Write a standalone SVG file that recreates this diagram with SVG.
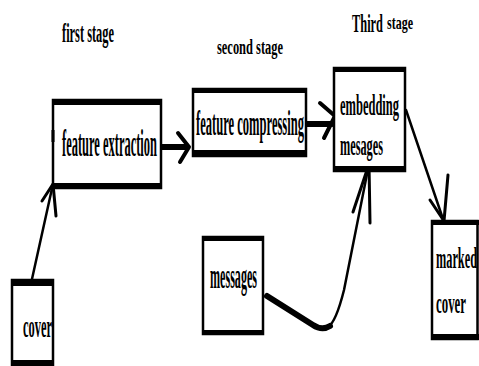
<svg xmlns="http://www.w3.org/2000/svg" width="479" height="366" viewBox="0 0 479 366">
<style>
text { font-family: "Liberation Serif", "Times New Roman", serif; fill: #000; font-weight: bold; }
.box { fill: #fff; stroke: #000; stroke-width: 2.5; }
.band { fill: #000; }
.ln { fill: none; stroke: #000; stroke-linecap: round; stroke-linejoin: round; }
</style>
<rect width="479" height="366" fill="#fff"/>
<g id="labels">
<text transform="translate(62,42) scale(0.459,1)" font-size="27" textLength="113.3" lengthAdjust="spacingAndGlyphs">first stage</text>
<text transform="translate(217,54) scale(0.566,1)" font-size="22" textLength="116.6" lengthAdjust="spacingAndGlyphs">second stage</text>
<text transform="translate(352,32) scale(0.477,1)" font-size="26" textLength="65" lengthAdjust="spacingAndGlyphs">Third</text>
<text transform="translate(387,29) scale(0.667,1)" font-size="18" textLength="39" lengthAdjust="spacingAndGlyphs">stage</text>
</g>
<g id="connectors">
<path class="ln" stroke-width="2.5" d="M32 279 L53 184"/>
<path class="ln" stroke-width="3" d="M42 201 L53 184 L56 216"/>
<path class="ln" stroke-width="6" d="M162 147 L186 147"/>
<path class="ln" stroke-width="4" d="M178 133 L189 147 L180 162"/>
<path class="ln" stroke-width="6" d="M307 124 L332 124"/>
<path class="ln" stroke-width="4" d="M320 103 L335 116 L324 138"/>
<path class="ln" stroke-width="2.5" d="M406 110 L444 222"/>
<path class="ln" stroke-width="3" d="M430 200 L444 221 L448 175"/>
<path class="ln" stroke-width="2.5" d="M444 221 L444 230"/>
<path class="ln" stroke-width="6" d="M267 296 L313 325 Q322 331 330 326"/>
<path class="ln" stroke-width="2.5" d="M328 327 Q336 322 344 290 Q356 230 369 164"/>
<path class="ln" stroke-width="3" d="M353 212 L369 164 L370 223"/>
</g>
<g id="n-extraction">
<rect class="box" x="53" y="100" width="108" height="88"/>
<rect class="band" x="52" y="99" width="110" height="6"/>
<rect class="band" x="52" y="183" width="110" height="6"/>
<rect class="band" x="51.5" y="130" width="3" height="12"/>
<text transform="translate(62,156) scale(0.336,1)" font-size="37" textLength="282.7" lengthAdjust="spacingAndGlyphs">feature extraction</text>
</g>
<g id="n-compressing">
<rect class="box" x="193" y="89" width="113" height="67"/>
<rect class="band" x="192" y="88" width="115" height="5"/>
<rect class="band" x="192" y="150" width="115" height="7"/>
<text transform="translate(196,135) scale(0.357,1)" font-size="35" textLength="302.5" lengthAdjust="spacingAndGlyphs">feature compressing</text>
</g>
<g id="n-embedding">
<rect class="box" x="334" y="68" width="71" height="103"/>
<rect class="band" x="333" y="67" width="73" height="5"/>
<rect class="band" x="333" y="166" width="73" height="6"/>
<text transform="translate(340,115) scale(0.416,1)" font-size="30" textLength="141.8" lengthAdjust="spacingAndGlyphs">embedding</text>
<text transform="translate(340,155) scale(0.41,1)" font-size="30" textLength="104.9" lengthAdjust="spacingAndGlyphs">mesages</text>
</g>
<g id="n-cover">
<rect class="box" x="12" y="280" width="41" height="85"/>
<rect class="band" x="11" y="279" width="43" height="7"/>
<rect class="band" x="11" y="360" width="43" height="6"/>
<text transform="translate(23,337) scale(0.401,1)" font-size="31" textLength="72.3" lengthAdjust="spacingAndGlyphs">cover</text>
</g>
<g id="n-messages">
<rect class="box" x="203" y="237" width="60" height="97"/>
<rect class="band" x="202" y="236" width="62" height="5"/>
<rect class="band" x="202" y="330" width="62" height="5"/>
<text transform="translate(210,288) scale(0.345,1)" font-size="35" textLength="136.2" lengthAdjust="spacingAndGlyphs">messages</text>
</g>
<g id="n-marked">
<rect class="box" x="432" y="221" width="45.5" height="118"/>
<rect class="band" x="431" y="220" width="48" height="5"/>
<rect class="band" x="431" y="334" width="48" height="6"/>
<text transform="translate(436,268) scale(0.41,1)" font-size="30" textLength="100" lengthAdjust="spacingAndGlyphs">marked</text>
<text transform="translate(436,313) scale(0.429,1)" font-size="30" textLength="69.9" lengthAdjust="spacingAndGlyphs">cover</text>
</g>
</svg>
